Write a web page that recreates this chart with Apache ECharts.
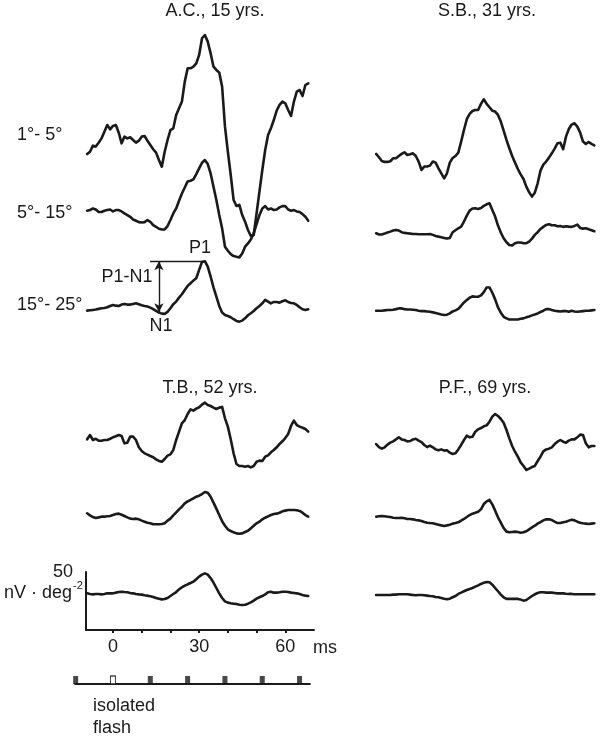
<!DOCTYPE html>
<html><head><meta charset="utf-8">
<script src="https://cdn.jsdelivr.net/npm/echarts@6/dist/echarts.min.js"></script>
<style>html,body{margin:0;padding:0;background:#fff}#c{width:600px;height:737px}</style>
</head><body><div id="c"></div>
<script>
// ---------- DATA ----------
// sample times (ms)
const times = [-9,-8,-7,-6,-5,-4,-3,-2,-1,0,1,2,3,4,5,6,7,8,9,10,11,12,13,14,15,16,17,18,19,20,21,22,23,24,25,26,27,28,29,30,31,32,33,34,35,36,37,38,39,40,41,42,43,44,45,46,47,48,49,50,51,52,53,54,55,56,57,58,59,60,61,62,63,64,65,66,67,68];
const subjects = ['A.C., 15 yrs.', 'S.B., 31 yrs.', 'T.B., 52 yrs.', 'P.F., 69 yrs.'];
const eccentricities = ['1°- 5°', '5°- 15°', '15°- 25°'];
const xTickValues = [0, 10, 20, 30, 40, 50, 60];
const xLabelValues = [0, 30, 60];
const scaleBarValue = 50;           // nV · deg^-2
const flashTimes = [-13, 0, 13, 26, 39, 52, 65];
const isolatedFlashTime = 0;

// responses, nV·deg^-2, one value per sample time
const acRing1 = [-12.1,-10.1,-4.9,-5.7,-2.3,1.4,7.2,12.9,9.2, 12.1,12.9,6.3,-2.9,2.9,1.4,2.3,0,-2.3,-0.6, 2.9,3.4,-0.6,-4.3,-8.0,-10.9,-17.2,-23.0,-10.1,0, 8.6,10.1,21.6,27.3,33.1,50.3,61.8,61.8,63.2,66.1, 73.3,87.7,90.5,84.8,74.7,63.2,60.4,58.1,46.0,11.5, -10.1,-30.2,-51.7,-56.9,-56.0,-64.7,-70.4,-77.6,-82.8,-81.9, -63.2,-44.5,-25.9,-8.6,4.3,10.1,17.2,25.3,30.2,33.1, 31.6,25.9,20.7,33.1,41.7,43.1,37.9,47.4,48.9];
const acRing2 = [0,0.6,2.0,1.1,-1.1,-1.1,0,0.6,1.1, -0.6,0.6,0.6,-0.6,-2.3,-3.7,-5.2,-7.5,-8.6,-9.8, -10.1,-9.8,-8.0,-9.5,-12.4,-13.8,-15.5,-16.1,-16.1,-13.2, -8.0,-2.3,2.0,8.6,14.9,20.1,25.3,25.9,27.0,31.6, 36.5,41.4,43.7,40.2,32.2,20.7,9.2,-3.7,-15.2,-31.0, -34.5,-37.4,-39.1,-39.7,-40.2,-36.8,-31.0,-28.2,-24.7,-19.5, -11.5,-3.7,2.0,4.0,1.1,2.0,0.6,1.1,2.9,4.0, 4.0,1.1,0,0.6,-0.6,-1.1,-2.9,-5.2,-8.6];
const acRing3 = [-2.9,-2.6,-2.3,-2.0,-1.4,-0.9,-0.6,0,1.1, 2.0,1.4,1.1,2.3,2.9,2.3,2.3,2.9,3.4,2.6, 1.7,1.1,0.6,-0.3,-1.7,-3.2,-4.6,-5.5,-5.7,-4.0, -0.9,2.6,4.9,8.3,11.2,14.9,18.4,20.7,23.0,25.0, 32.2,39.1,39.7,35.1,26.4,17.2,9.2,1.1,-4.6,-6.6, -7.5,-8.6,-10.3,-11.8,-12.4,-11.5,-9.5,-6.9,-5.2,-3.2, -0.9,1.1,3.4,6.3,4.9,3.4,4.6,4.6,4.0,5.2, 6.0,4.6,3.7,3.4,2.0,0,-1.7,-2.3,-1.7];

const sbRing1 = [5.2,2.3,-0.9,-1.7,-1.7,-1.1,1.4,1.4,3.4, 5.2,6.6,4.3,4.9,5.7,3.4,-1.4,-8.6,-5.7,-5.7, -4.9,-1.4,-2.3,-7.2,-11.5,-15.8,-11.5,-2.3,1.7,3.4, 6.3,15.8,25.9,35.1,39.7,42.2,43.1,43.1,48.3,52.3, 48.3,45.4,42.5,41.7,38.8,33.1,25.3,17.2,10.1,3.4, -2.3,-7.8,-12.4,-16.4,-23.0,-27.9,-31.6,-28.2,-20.1,-9.2, -4.0,-1.4,2.0,5.7,9.8,14.4,14.9,9.2,20.1,26.7, 30.5,31.6,28.7,23.6,15.8,13.8,15.5,13.8,12.6];
const sbRing2 = [0,-1.1,-1.1,-0.3,0.6,1.4,2.3,2.9,2.3, 0.9,0.3,0,-0.3,-0.6,-0.6,-0.9,-0.9,-0.9,-0.9, -0.6,-1.4,-2.3,-2.9,-3.4,-4.0,-4.6,-4.0,0.9,2.6, 4.3,5.7,10.1,15.2,19.5,21.3,21.6,21.0,21.8,23.6, 25.0,25.9,20.1,14.4,6.6,0.6,-4.3,-7.8,-10.1,-10.6, -8.6,-8.0,-8.0,-8.6,-8.6,-7.2,-4.6,-1.4,0.9,3.7, 5.5,7.2,7.8,6.9,6.9,6.0,6.3,5.5,6.0,5.7, 5.5,6.3,7.5,4.6,4.0,4.3,3.4,2.6,1.7];
const sbRing3 = [0,0,0,0.3,0.6,0.6,0.9,1.4,2.0, 2.0,1.4,1.1,1.1,0.9,0.6,0,-0.3,-0.3,-0.6, -0.9,-1.4,-2.0,-2.6,-3.2,-3.7,-3.4,-2.3,-0.6,0.3, 1.7,4.3,7.2,9.2,11.2,12.4,12.1,12.1,13.2,16.1, 20.1,20.1,15.5,9.8,2.9,-1.7,-5.2,-6.6,-7.5,-7.5, -7.5,-7.5,-6.9,-6.6,-5.7,-4.9,-4.0,-3.2,-2.3,-1.1, 0,1.4,1.4,0.6,0,-0.3,-0.6,-0.3,-0.3,-0.9, 0,-0.6,-0.9,-0.6,-0.3,0,0,0.3,0.6];

const tbRing1 = [0.6,4.3,0,1.1,-0.6,-0.6,0,0,1.1, 2.3,3.2,4.3,3.4,-2.9,-2.3,2.9,2.9,0,-6.3, -9.5,-11.5,-12.6,-13.8,-14.9,-16.7,-18.1,-18.7,-16.4,-13.5, -12.4,-8.6,0,7.2,14.4,17.2,22.4,26.4,25.3,27.0, 28.2,30.5,32.2,30.2,29.3,27.9,26.7,27.9,28.5,18.7, 11.5,0.6,-11.5,-20.7,-22.4,-22.4,-23.0,-22.4,-23.6,-22.4, -18.7,-17.8,-18.1,-14.4,-13.2,-10.6,-8.6,-6.3,-3.4,-1.1, 1.7,5.2,12.1,16.7,12.9,11.5,10.6,9.5,7.2];
const tbRing2 = [2.9,1.1,-0.3,-1.1,-0.6,0,0,0.3,0.6, 1.4,2.3,2.6,1.7,0.6,-0.6,-1.7,-2.0,-1.7,-2.3, -3.4,-4.3,-5.2,-5.7,-6.6,-6.6,-6.6,-6.3,-5.7,-3.4, -1.7,1.1,3.7,6.3,8.6,11.5,13.2,14.4,15.8,17.2, 18.1,19.5,21.3,20.7,17.2,12.1,6.9,1.4,-4.0,-7.8, -10.9,-12.4,-13.5,-14.4,-14.7,-14.4,-13.2,-12.1,-10.1,-7.8, -5.7,-4.3,-2.3,-0.9,0.3,1.4,2.3,2.6,3.4,4.6, 5.2,5.7,5.7,5.7,5.5,4.9,3.4,1.4,0];
const tbRing3 = [0,-0.6,-0.9,-0.6,-0.6,-0.9,-0.6,0,0, 0,0.6,1.1,1.4,1.1,0.9,0.3,0,-0.6,-0.9, -1.1,-1.7,-2.0,-2.6,-3.2,-4.0,-4.6,-5.2,-4.9,-4.0, -2.3,-0.6,1.1,3.4,5.2,6.6,7.8,8.9,10.1,12.1, 14.4,16.1,17.2,16.1,13.2,9.2,4.6,0,-4.0,-6.9, -8.0,-8.6,-8.9,-9.2,-9.8,-10.1,-9.8,-8.9,-7.8,-6.3, -4.6,-3.4,-2.3,-0.9,0.9,1.4,0.6,0.6,0.9,1.4, 1.4,1.1,0.6,0.3,0,-0.6,-1.4,-2.0,-2.3];

const pfRing1 = [-0.6,-3.2,-4.6,-3.4,-1.1,0.6,1.7,3.4,5.2, 3.4,2.9,1.7,2.0,3.4,4.0,2.3,1.1,-1.4,-3.2, -2.0,-3.4,-5.2,-6.0,-5.2,-6.3,-6.0,-8.0,-9.2,-8.6, -5.2,-1.4,2.9,6.6,5.2,5.7,10.1,12.1,13.2,14.7, 15.5,18.7,23.0,25.3,23.6,21.0,17.8,11.5,4.3,-2.3, -7.2,-11.5,-16.4,-19.5,-23.0,-21.8,-20.4,-19.5,-15.2,-11.5, -6.9,-5.2,-4.6,-3.4,-0.6,1.4,2.9,1.4,0.6,2.3, 3.4,3.4,5.2,7.5,7.2,0,-3.4,-2.3,-2.3];
const pfRing2 = [0,0.3,0.6,0.3,0,-0.3,-0.9,-1.1,-1.1, -0.9,-1.4,-2.0,-2.0,-2.3,-2.9,-3.2,-3.7,-4.6,-5.2, -5.5,-5.7,-6.3,-6.9,-7.5,-8.0,-7.5,-6.9,-6.0,-5.5, -4.9,-3.4,-2.0,-0.3,1.4,2.6,3.4,4.3,6.3,10.9, 13.2,14.4,10.6,5.2,-0.6,-5.2,-9.8,-12.9,-13.5,-13.2, -12.9,-13.2,-13.8,-13.5,-12.6,-10.9,-9.2,-7.8,-6.0,-4.6, -3.2,-2.3,-2.3,-2.9,-4.3,-5.5,-5.5,-4.9,-4.3,-3.4, -2.6,-3.2,-4.3,-5.2,-5.7,-6.0,-6.3,-6.0,-5.7];
const pfRing3 = [0,0,0,0,0,0,0.3,0.3,0.6, 0.6,0.6,0.6,0.3,0,-0.3,0,0,-0.3,-0.6, -0.9,-1.1,-1.7,-2.0,-2.6,-3.2,-3.7,-3.2,-2.0,-0.9, 0.9,2.0,3.2,4.3,5.2,6.0,7.2,8.3,9.5,10.6, 11.2,10.9,8.9,6.0,3.2,0.3,-2.0,-3.4,-3.4,-3.4, -3.4,-3.4,-4.0,-4.9,-4.3,-2.6,-0.9,0.6,1.7,2.3, 2.3,2.0,2.0,2.0,1.7,1.4,1.4,1.4,1.1,0.9, 0.9,0.6,0.6,0.6,0.6,0.6,0.6,0.6,0.6];

// ---------- LAYOUT ----------
const PX_PER_UNIT = 1.16;           // 58 px per 50 nV·deg^-2
const X_MIN = -9.4, X_MAX = 70;
const INK = '#1a1a1a';
const FONT = '"Liberation Sans", Arial, Helvetica, sans-serif';
const panels = [
  { traces: [acRing1, acRing2, acRing3], left: 86,  top: 20,  height: 310, offsets: [163.8, 102.8, 19.6] },
  { traces: [sbRing1, sbRing2, sbRing3], left: 375, top: 20,  height: 310, offsets: [146.6, 83.4, 16.6] },
  { traces: [tbRing1, tbRing2, tbRing3], left: 86,  top: 360, height: 270, offsets: [163.8, 97.7, 31.6] },
  { traces: [pfRing1, pfRing2, pfRing3], left: 375, top: 360, height: 270, offsets: [160.9, 97.7, 30.2] }
];
const PANEL_W = 228;

const grids = [], xAxes = [], yAxes = [], series = [];
panels.forEach((p, pi) => {
  grids.push({ left: p.left, top: p.top, width: PANEL_W, height: p.height });
  const showX = pi === 2;
  xAxes.push({
    gridIndex: pi, type: 'value', min: X_MIN, max: X_MAX, show: showX,
    splitLine: { show: false },
    axisLine: { show: true, onZero: false, lineStyle: { color: INK, width: 2 } },
    axisTick: { show: true, inside: false, length: 3, lineStyle: { color: INK, width: 2 }, customValues: xTickValues },
    axisLabel: { show: true, customValues: xLabelValues, fontSize: 18, fontFamily: FONT, color: INK, margin: 8 }
  });
  yAxes.push({ gridIndex: pi, type: 'value', min: 0, max: p.height / PX_PER_UNIT, show: false });
  p.traces.forEach((tr, k) => {
    series.push({
      type: 'line', xAxisIndex: pi, yAxisIndex: pi, clip: false, silent: true,
      showSymbol: false, symbol: 'none',
      lineStyle: { color: INK, width: 2.6, join: 'round', cap: 'round' },
      data: times.map((t, i) => [t, tr[i] + p.offsets[k]])
    });
  });
});

// P1 / N1 annotation on A.C. 15°-25°
(function () {
  const tr = acRing3, off = panels[0].offsets[2];
  let p1i = 0; tr.forEach((v, i) => { if (v > tr[p1i]) p1i = i; });
  let n1i = 0; for (let i = 0; i < p1i; i++) if (times[i] >= 10 && (tr[i] < tr[n1i] || times[n1i] < 10)) n1i = i;
  const p1 = tr[p1i] + off, n1 = tr[n1i] + off;
  series[2].markLine = {
    silent: true, animation: false, symbol: ['none', 'none'],
    label: { show: false },
    lineStyle: { color: INK, width: 1.4, type: 'solid' },
    data: [
      [{ coord: [12.9, p1] }, { coord: [times[p1i], p1] }],
      [{ coord: [16, p1], symbol: 'arrow', symbolSize: [7, 9] }, { coord: [16, n1 + 1.5], symbol: 'arrow', symbolSize: [7, 9] }]
    ]
  };
})();

// scale bar (y axis 0..50) in bottom-left panel
const sbGrid = grids.length;
grids.push({ left: 86, top: 572, width: PANEL_W, height: 58 });
xAxes.push({ gridIndex: sbGrid, type: 'value', min: X_MIN, max: X_MAX, show: false });
yAxes.push({
  gridIndex: sbGrid, type: 'value', min: 0, max: scaleBarValue, interval: scaleBarValue,
  splitLine: { show: false },
  axisLine: { show: true, onZero: false, lineStyle: { color: INK, width: 2 } },
  axisTick: { show: false },
  axisLabel: { fontSize: 18, fontFamily: FONT, color: INK, margin: 13, formatter: v => v === scaleBarValue ? String(v) : '' }
});

// stimulus timeline
const stGrid = grids.length;
grids.push({ left: 75.1, top: 676, width: 234.8, height: 8 });
xAxes.push({ gridIndex: stGrid, type: 'value', min: -13.2, max: 68.6,
  splitLine: { show: false }, axisTick: { show: false }, axisLabel: { show: false },
  axisLine: { show: true, onZero: false, lineStyle: { color: INK, width: 2 } } });
yAxes.push({ gridIndex: stGrid, type: 'value', min: 0, max: 1, show: false });
series.push({
  type: 'scatter', xAxisIndex: stGrid, yAxisIndex: stGrid, clip: false, silent: true,
  symbol: 'rect', symbolSize: [5, 8], z: 5,
  data: flashTimes.map(t => ({
    value: [t, 0.5],
    itemStyle: t === isolatedFlashTime ? { color: '#fff', borderColor: INK, borderWidth: 1.3 } : { color: INK }
  }))
});

function txt(text, x, y, align, size) {
  return { type: 'text', x: x, y: y, silent: true,
    style: { text: text, fill: INK, font: (size || 18) + 'px ' + FONT, textAlign: align || 'left', textVerticalAlign: 'middle' } };
}
const graphics = [
  txt(subjects[0], 215, 11, 'center'),
  txt(subjects[1], 487, 11, 'center'),
  txt(subjects[2], 210, 388, 'center'),
  txt(subjects[3], 485, 388, 'center'),
  txt(eccentricities[0], 17, 135),
  txt(eccentricities[1], 17, 213),
  txt(eccentricities[2], 17, 305),
  txt('P1', 200, 248, 'center'),
  txt('P1-N1', 127, 277, 'center'),
  txt('N1', 161, 326, 'center'),
  txt('nV · deg', 72, 593, 'right'),
  txt('-2', 73, 586, 'left', 11),
  txt('ms', 313, 648),
  txt('isolated', 93, 706),
  txt('flash', 93, 728)
];

const chart = echarts.init(document.getElementById('c'), null, { renderer: 'canvas' });
chart.setOption({
  animation: false,
  backgroundColor: '#fff',
  grid: grids, xAxis: xAxes, yAxis: yAxes, series: series,
  graphic: { elements: graphics }
});
</script></body></html>
